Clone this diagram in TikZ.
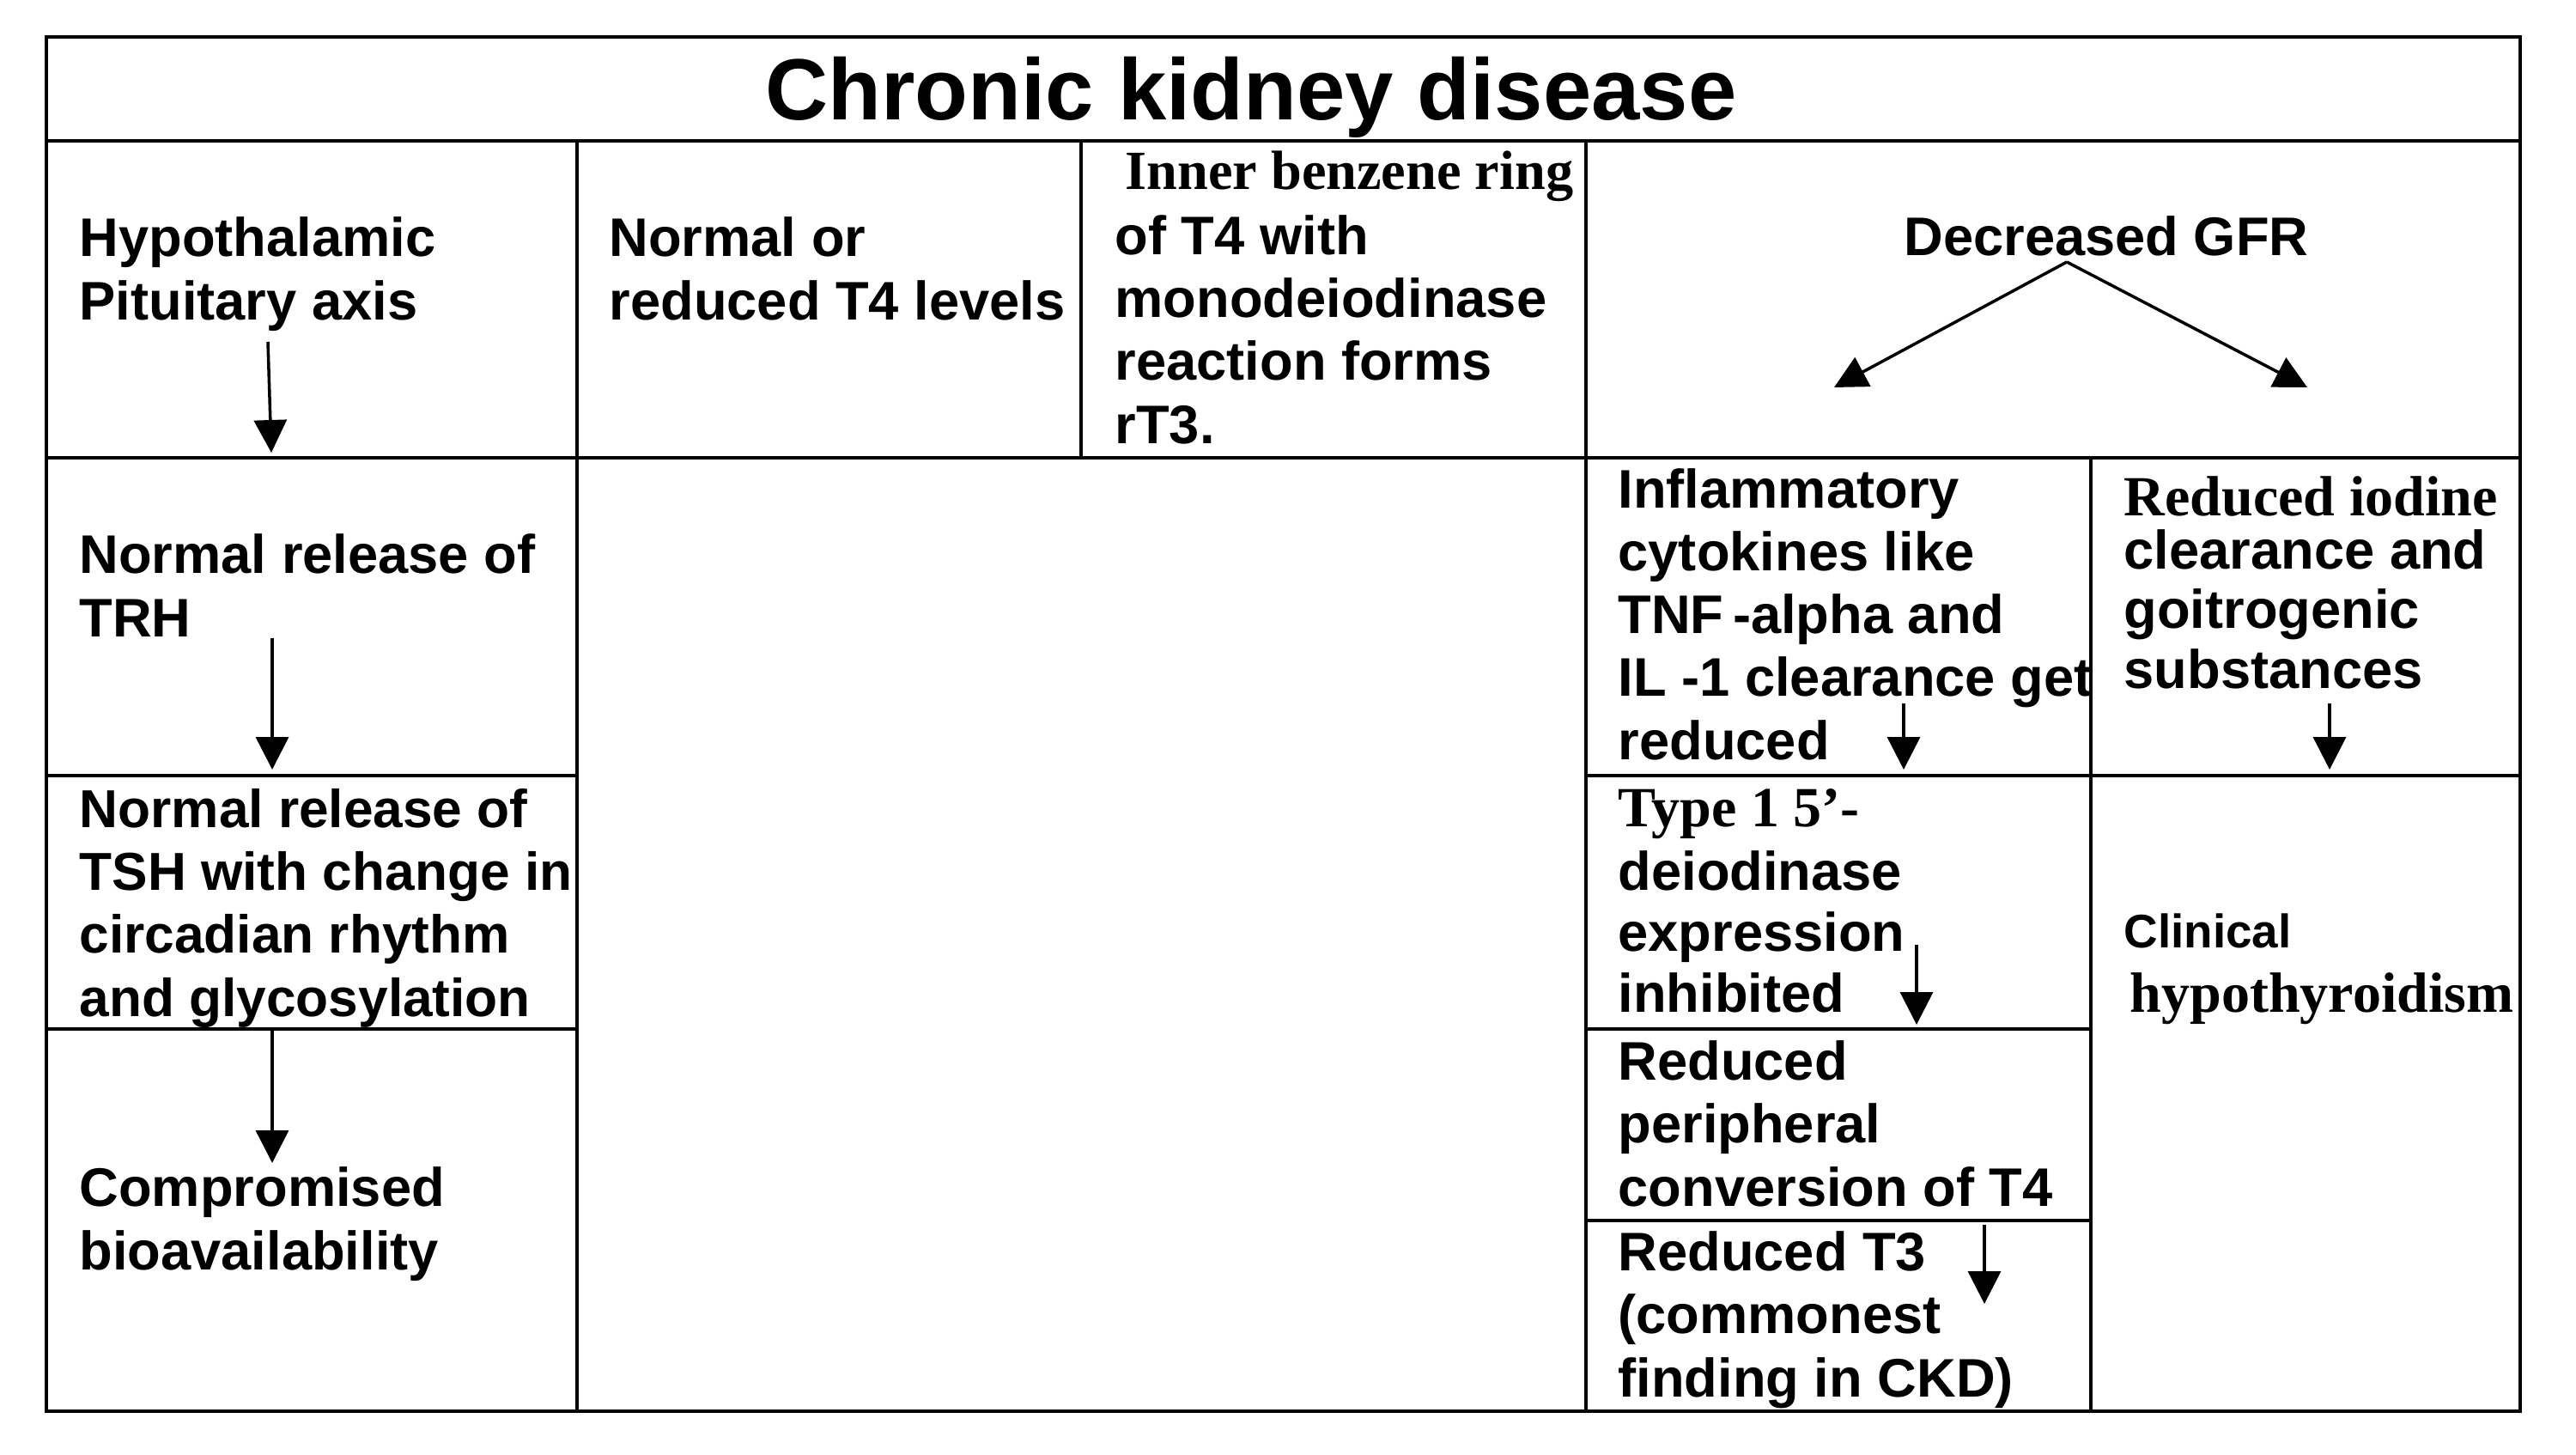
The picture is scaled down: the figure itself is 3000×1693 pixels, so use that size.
\documentclass[tikz,border=0pt]{standalone}
\usepackage{fontspec}
\setmainfont{Liberation Sans}
\newfontfamily\timesbf{Liberation Serif}
\usetikzlibrary{arrows.meta}

\tikzset{
  cell/.style={anchor=base west, align=left, inner sep=0pt, font=\bfseries\fontsize{18}{20.8}\selectfont},
  sercell/.style={cell, font=\timesbf\bfseries\fontsize{18.8}{20.8}\selectfont},
  flow/.style={->, line width=1pt},
}

\begin{document}
\begin{tikzpicture}[x=0.1mm, y=-0.1mm, line width=0.9pt, >={Triangle[length=3.8mm,width=3.8mm]}]

\useasboundingbox (0,0) rectangle (3000,1693);

% Table frame and rulings
\draw (54,43) rectangle (2935,1643);
\draw (54,164) -- (2935,164);
\draw (54,533) -- (2935,533);
\draw (672,164) -- (672,1643);
\draw (1259,164) -- (1259,533);
\draw (1847,164) -- (1847,1643);
\draw (2435,533) -- (2435,1643);
\draw (54,903) -- (672,903);
\draw (54,1198) -- (672,1198);
\draw (1847,903) -- (2935,903);
\draw (1847,1198) -- (2435,1198);
\draw (1847,1421) -- (2435,1421);

% Title
\node[anchor=base, inner sep=0pt, font=\bfseries\fontsize{28.8}{33}\selectfont] (ckd) at (1457,140) {Chronic kidney disease};

% Left column (anchored at the last line)
\node[cell] (hpa) at (91,372) {Hypothalamic\\Pituitary axis};
\node[cell] (trh) at (91,741) {Normal release of\\TRH};
\node[cell, font=\bfseries\fontsize{17.7}{20.8}\selectfont] (tsh) at (91,1183) {Normal release of\\TSH with change in\\circadian rhythm\\and glycosylation};
\node[cell] (bio) at (91,1478) {Compromised\\bioavailability};

% Middle columns
\node[cell] (tfour) at (708,372) {Normal or\\reduced T4 levels};
\node[sercell, font=\timesbf\bfseries\fontsize{18.3}{20.8}\selectfont] (ring) at (1309,221) {Inner benzene ring};
\node[cell] (rtthree) at (1297,516) {of T4 with\\monodeiodinase\\reaction forms\\rT3.};

% Right columns
\node[anchor=base, inner sep=0pt, font=\bfseries\fontsize{18}{20.8}\selectfont] (gfr) at (2453,297) {Decreased GFR};
\node[cell] (cyto) at (1883,884) {Inflammatory\\cytokines like\\TNF\thinspace-alpha and\\IL -1 clearance get\\reduced};
\node[sercell] (iodine) at (2472,600) {Reduced iodine};
\node[cell, font=\bfseries\fontsize{18}{19.7}\selectfont] (goitro) at (2472,801) {clearance and\\goitrogenic\\substances};
\node[sercell] (typeone) at (1883,962) {Type 1 5’-};
\node[cell, font=\bfseries\fontsize{18}{20.1}\selectfont] (deio) at (1883,1178) {deiodinase\\expression\\inhibited};
\node[cell] (conv) at (1883,1404) {Reduced\\peripheral\\conversion of T4};
\node[cell] (tthree) at (1883,1626) {Reduced T3\\(commonest\\finding in CKD)};
\node[cell, font=\bfseries\fontsize{15.6}{18}\selectfont] (clin) at (2472,1103) {Clinical};
\node[sercell] (hypo) at (2479,1178) {hypothyroidism};

% Arrow ends
\coordinate (hpa-s) at (312,398);  \coordinate (hpa-e) at (316,527);
\coordinate (trh-s) at (317,743);  \coordinate (trh-e) at (317,896);
\coordinate (tsh-s) at (317,1200); \coordinate (tsh-e) at (317,1354);
\coordinate (split) at (2407,305);
\coordinate (left-e) at (2136,451); \coordinate (right-e) at (2687,451);
\coordinate (cyto-s) at (2217,819);  \coordinate (cyto-e) at (2217,896);
\coordinate (goitro-s) at (2713,819); \coordinate (goitro-e) at (2713,896);
\coordinate (deio-s) at (2232,1100); \coordinate (deio-e) at (2232,1193);
\coordinate (tthree-s) at (2311,1426); \coordinate (tthree-e) at (2311,1518);

% Arrows
\draw[flow] (hpa-s) -- (hpa-e);
\draw[flow] (trh-s) -- (trh-e);
\draw[flow] (tsh-s) -- (tsh-e);
\draw[flow] (split) -- (left-e);
\draw[flow] (split) -- (right-e);
\draw[flow] (cyto-s) -- (cyto-e);
\draw[flow] (goitro-s) -- (goitro-e);
\draw[flow] (deio-s) -- (deio-e);
\draw[flow] (tthree-s) -- (tthree-e);

\end{tikzpicture}
\end{document}
